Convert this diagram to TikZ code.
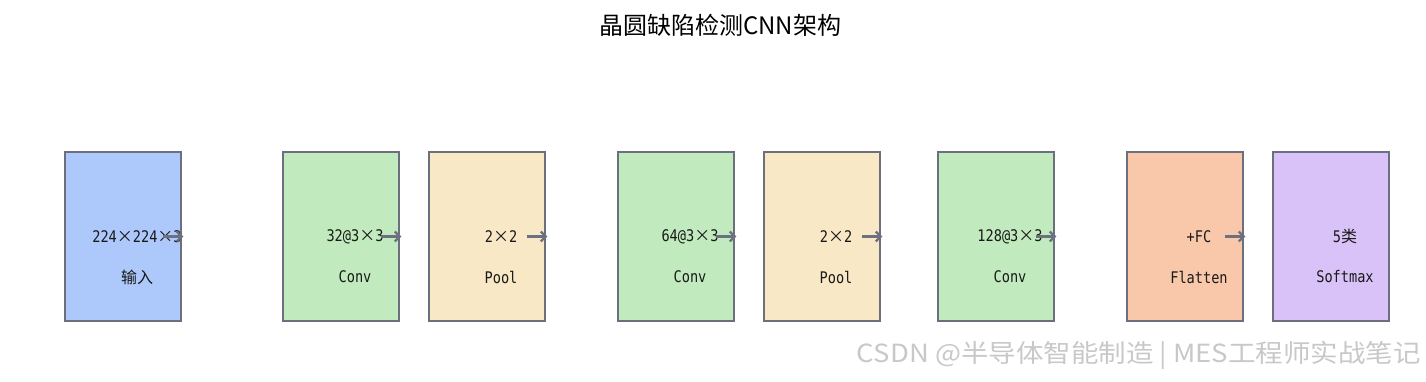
\documentclass[tikz,border=0pt]{standalone}
\usepackage{fontspec}
\usetikzlibrary{arrows.meta}
\setmainfont{Noto Sans CJK SC}
\newfontfamily\cjk{Noto Sans CJK SC}
\newfontfamily\cjkwide[FakeStretch=1.1]{Noto Sans CJK SC}
\newfontfamily\mono[FakeStretch=0.85]{DejaVu Sans Mono}
\definecolor{bordc}{HTML}{6C6F7D}
\definecolor{arrc}{HTML}{6C7180}
\definecolor{fblue}{HTML}{ADC8FA}
\definecolor{fgreen}{HTML}{C1EBBE}
\definecolor{fyellow}{HTML}{F9E8C6}
\definecolor{forange}{HTML}{F9C8AA}
\definecolor{fpurple}{HTML}{D9C2F7}
\definecolor{wmark}{HTML}{C8C8C8}
\newcommand{\tms}{\makebox[16pt]{\cjk\fontsize{16pt}{16pt}\selectfont ×}}
\tikzset{
  layer/.style={draw=bordc, line width=1.8pt, minimum width=116pt, minimum height=169pt, inner sep=0pt},
  lbl/.style={font=\mono\fontsize{16pt}{18pt}\selectfont, text=black!90, inner sep=0pt},
  arr/.style={draw=arrc, line width=2.3pt, -{Straight Barb[length=5pt,width=10pt]}}
}
\begin{document}
\begin{tikzpicture}[x=1pt,y=-1pt]
\useasboundingbox (0,0) rectangle (1426,382);
\node[font=\cjk\fontsize{24pt}{26pt}\selectfont] (title) at (720,25) {晶圆缺陷检测CNN架构};

\node[layer, fill=fblue]   (b1) at (123,236.5) {};
\node[layer, fill=fgreen]  (b2) at (341,236.5) {};
\node[layer, fill=fyellow] (b3) at (487,236.5) {};
\node[layer, fill=fgreen]  (b4) at (676,236.5) {};
\node[layer, fill=fyellow] (b5) at (822,236.5) {};
\node[layer, fill=fgreen]  (b6) at (996,236.5) {};
\node[layer, fill=forange] (b7) at (1185,236.5) {};
\node[layer, fill=fpurple] (b8) at (1331,236.5) {};

\node[lbl] (t1) at ([shift={(14pt,0pt)}]b1.center) {224\tms 224\tms 3};
\node[lbl] (l1) at ([shift={(14pt,-40.5pt)}]b1.center) {\cjk 输入};
\node[lbl] (t2) at ([shift={(14pt,0pt)}]b2.center) {32@3\tms 3};
\node[lbl] (l2) at ([shift={(14pt,-40.5pt)}]b2.center) {Conv};
\node[lbl] (t3) at ([shift={(14pt,0pt)}]b3.center) {2\tms 2};
\node[lbl] (l3) at ([shift={(14pt,-40.5pt)}]b3.center) {Pool};
\node[lbl] (t4) at ([shift={(14pt,0pt)}]b4.center) {64@3\tms 3};
\node[lbl] (l4) at ([shift={(14pt,-40.5pt)}]b4.center) {Conv};
\node[lbl] (t5) at ([shift={(14pt,0pt)}]b5.center) {2\tms 2};
\node[lbl] (l5) at ([shift={(14pt,-40.5pt)}]b5.center) {Pool};
\node[lbl] (t6) at ([shift={(14pt,0pt)}]b6.center) {128@3\tms 3};
\node[lbl] (l6) at ([shift={(14pt,-40.5pt)}]b6.center) {Conv};
\node[lbl] (t7) at ([shift={(14pt,0pt)}]b7.center) {+FC};
\node[lbl] (l7) at ([shift={(14pt,-40.5pt)}]b7.center) {Flatten};
\node[lbl] (t8) at ([shift={(14pt,0pt)}]b8.center) {5{\cjk 类}};
\node[lbl] (l8) at ([shift={(14pt,-40.5pt)}]b8.center) {Softmax};

\foreach \b in {b1,b2,b3,b4,b5,b6,b7}{
  \draw[arr] ([xshift=-19pt]\b.east) -- ([xshift=1.5pt]\b.east);
}

\node[font=\cjkwide\fontsize{25pt}{27pt}\selectfont, text=wmark, anchor=east, inner sep=0pt] (wm) at (1421,355) {CSDN @半导体智能制造 | MES工程师实战笔记};
\end{tikzpicture}
\end{document}
